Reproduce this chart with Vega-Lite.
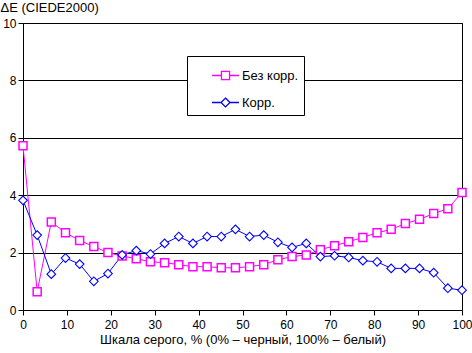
{
  "$schema": "https://vega.github.io/schema/vega-lite/v6.json",
  "width": 439,
  "height": 287,
  "autosize": "none",
  "padding": {"left": 23, "top": 23, "right": 10, "bottom": 43},
  "background": "white",
  "config": {
    "font": "Liberation Sans",
    "view": {"stroke": "black", "strokeWidth": 1},
    "axis": {"labelFont": "Liberation Sans", "labelFontSize": 12, "labelColor": "black", "titleFont": "Liberation Sans", "titleFontSize": 13, "titleFontWeight": "normal", "titleColor": "black", "domainColor": "black", "tickColor": "black", "tickSize": 5}
  },
  "data": {"values": [
    {"x": 0, "v": 5.72, "s": "Без корр."},
    {"x": 3.23, "v": 0.64, "s": "Без корр."},
    {"x": 6.45, "v": 3.07, "s": "Без корр."},
    {"x": 9.68, "v": 2.69, "s": "Без корр."},
    {"x": 12.9, "v": 2.42, "s": "Без корр."},
    {"x": 16.13, "v": 2.21, "s": "Без корр."},
    {"x": 19.35, "v": 2.0, "s": "Без корр."},
    {"x": 22.58, "v": 1.88, "s": "Без корр."},
    {"x": 25.81, "v": 1.79, "s": "Без корр."},
    {"x": 29.03, "v": 1.68, "s": "Без корр."},
    {"x": 32.26, "v": 1.65, "s": "Без корр."},
    {"x": 35.48, "v": 1.58, "s": "Без корр."},
    {"x": 38.71, "v": 1.51, "s": "Без корр."},
    {"x": 41.94, "v": 1.51, "s": "Без корр."},
    {"x": 45.16, "v": 1.47, "s": "Без корр."},
    {"x": 48.39, "v": 1.47, "s": "Без корр."},
    {"x": 51.61, "v": 1.51, "s": "Без корр."},
    {"x": 54.84, "v": 1.58, "s": "Без корр."},
    {"x": 58.06, "v": 1.75, "s": "Без корр."},
    {"x": 61.29, "v": 1.86, "s": "Без корр."},
    {"x": 64.52, "v": 1.92, "s": "Без корр."},
    {"x": 67.74, "v": 2.1, "s": "Без корр."},
    {"x": 70.97, "v": 2.24, "s": "Без корр."},
    {"x": 74.19, "v": 2.38, "s": "Без корр."},
    {"x": 77.42, "v": 2.53, "s": "Без корр."},
    {"x": 80.65, "v": 2.69, "s": "Без корр."},
    {"x": 83.87, "v": 2.81, "s": "Без корр."},
    {"x": 87.1, "v": 3.01, "s": "Без корр."},
    {"x": 90.32, "v": 3.16, "s": "Без корр."},
    {"x": 93.55, "v": 3.36, "s": "Без корр."},
    {"x": 96.77, "v": 3.53, "s": "Без корр."},
    {"x": 100, "v": 4.09, "s": "Без корр."},
    {"x": 0, "v": 3.82, "s": "Корр."},
    {"x": 3.23, "v": 2.61, "s": "Корр."},
    {"x": 6.45, "v": 1.25, "s": "Корр."},
    {"x": 9.68, "v": 1.81, "s": "Корр."},
    {"x": 12.9, "v": 1.6, "s": "Корр."},
    {"x": 16.13, "v": 1.0, "s": "Корр."},
    {"x": 19.35, "v": 1.27, "s": "Корр."},
    {"x": 22.58, "v": 1.92, "s": "Корр."},
    {"x": 25.81, "v": 2.07, "s": "Корр."},
    {"x": 29.03, "v": 1.95, "s": "Корр."},
    {"x": 32.26, "v": 2.32, "s": "Корр."},
    {"x": 35.48, "v": 2.56, "s": "Корр."},
    {"x": 38.71, "v": 2.32, "s": "Корр."},
    {"x": 41.94, "v": 2.56, "s": "Корр."},
    {"x": 45.16, "v": 2.56, "s": "Корр."},
    {"x": 48.39, "v": 2.81, "s": "Корр."},
    {"x": 51.61, "v": 2.56, "s": "Корр."},
    {"x": 54.84, "v": 2.61, "s": "Корр."},
    {"x": 58.06, "v": 2.36, "s": "Корр."},
    {"x": 61.29, "v": 2.18, "s": "Корр."},
    {"x": 64.52, "v": 2.32, "s": "Корр."},
    {"x": 67.74, "v": 1.86, "s": "Корр."},
    {"x": 70.97, "v": 1.89, "s": "Корр."},
    {"x": 74.19, "v": 1.83, "s": "Корр."},
    {"x": 77.42, "v": 1.72, "s": "Корр."},
    {"x": 80.65, "v": 1.68, "s": "Корр."},
    {"x": 83.87, "v": 1.45, "s": "Корр."},
    {"x": 87.1, "v": 1.45, "s": "Корр."},
    {"x": 90.32, "v": 1.45, "s": "Корр."},
    {"x": 93.55, "v": 1.3, "s": "Корр."},
    {"x": 96.77, "v": 0.76, "s": "Корр."},
    {"x": 100, "v": 0.69, "s": "Корр."}
  ]},
  "encoding": {
    "x": {"field": "x", "type": "quantitative", "scale": {"domain": [0, 100], "nice": false},
      "axis": {"values": [0,10,20,30,40,50,60,70,80,90,100], "grid": false, "labelPadding": 4, "labelFlush": false,
        "title": "Шкала серого, % (0% – черный, 100% – белый)", "titlePadding": 3}},
    "y": {"field": "v", "type": "quantitative", "scale": {"domain": [0, 10], "nice": false},
      "axis": {"values": [0,2,4,6,8,10], "grid": true, "gridColor": "black", "gridOpacity": 1, "labelPadding": 2, "labelFlush": false,
        "title": "ΔE (CIEDE2000)", "titleAngle": 0, "titleAlign": "left", "titleBaseline": "top", "titleX": -23, "titleY": -22}},
    "color": {"field": "s", "type": "nominal", "scale": {"domain": ["Без корр.", "Корр."], "range": ["#FF00FF", "#0000FF"]},
      "legend": {"title": null, "orient": "none", "legendX": 164, "legendY": 33, "padding": 5, "strokeColor": "black", "fillColor": "white",
        "symbolSize": 729, "symbolOffset": 19, "labelOffset": 2, "rowPadding": 5, "labelFont": "Liberation Sans", "labelFontSize": 13, "labelColor": "black",
        "symbolStrokeWidth": 1.3, "symbolFillColor": "white", "symbolType": "square",
        "labelExpr": "datum.label + '\u00a0\u00a0\u00a0\u00a0'",
        "encode": {"symbols": {"update": {"shape": {"signal": "datum.value === 'Без корр.' ? 'M-1,0H-0.3M0.3,0H1M-0.3,-0.3H0.3V0.3H-0.3Z' : 'M-1,0H-0.33M0.33,0H1M0,-0.33L0.33,0L0,0.33L-0.33,0Z'"}, "fill": {"value": "white"}, "fillOpacity": {"value": 1}, "opacity": {"value": 1}}}}}}
  },
  "layer": [
    {"mark": {"type": "line", "strokeWidth": 1}},
    {"transform": [{"filter": "datum.s === 'Без корр.'"}],
      "mark": {"type": "point", "shape": "square", "size": 64, "filled": false, "fill": "white", "fillOpacity": 1, "opacity": 1, "strokeWidth": 1.5}},
    {"transform": [{"filter": "datum.s === 'Корр.'"}],
      "mark": {"type": "point", "shape": "diamond", "size": 75, "filled": false, "fill": "white", "fillOpacity": 1, "opacity": 1, "strokeWidth": 1.1}}
  ]
}
